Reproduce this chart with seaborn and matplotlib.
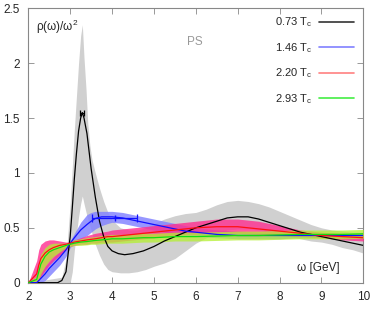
import numpy as np
import pandas as pd
import matplotlib
matplotlib.use("Agg")
import matplotlib.pyplot as plt
import seaborn as sns
from matplotlib.lines import Line2D

# --- 0.73 Tc (PS) ---
w_ps = [2.0, 2.7, 2.8, 2.9, 3.0, 3.05, 3.1, 3.15, 3.2, 3.25, 3.29, 3.33, 3.4, 3.5, 3.6,
        3.7, 3.8, 3.9, 4.0, 4.15, 4.3, 4.5, 4.75, 5.0, 5.25, 5.5, 5.75, 6.0, 6.25, 6.5,
        6.75, 7.0, 7.25, 7.5, 7.75, 8.0, 8.25, 8.5, 8.75, 9.0, 9.25, 9.5, 9.75, 10.0]
rho_ps = [0.0, 0.0, 0.02, 0.1, 0.42, 0.68, 0.95, 1.18, 1.38, 1.5, 1.55, 1.5, 1.36, 1.04, 0.78,
          0.56, 0.42, 0.33, 0.29, 0.265, 0.255, 0.265, 0.29, 0.33, 0.38, 0.42, 0.46, 0.5, 0.53, 0.56,
          0.59, 0.6, 0.6, 0.58, 0.55, 0.52, 0.49, 0.46, 0.44, 0.42, 0.4, 0.38, 0.36, 0.34]

w_psband = [2.0, 2.8, 2.9, 3.0, 3.05, 3.1, 3.2, 3.25, 3.29, 3.33, 3.38, 3.42, 3.47, 3.52, 3.6, 3.7,
            3.8, 3.9, 4.0, 4.2, 4.4, 4.6, 4.8, 5.0, 5.25, 5.5, 5.75, 6.0, 6.25, 6.5, 6.75,
            7.0, 7.25, 7.5, 7.75, 8.0, 8.25, 8.5, 8.75, 9.0, 9.25, 9.5, 9.75, 10.0]
ps_hi = [0.0, 0.05, 0.22, 0.72, 1.05, 1.4, 2.0, 2.25, 2.35, 2.05, 1.75, 1.45, 1.25, 1.12, 1.0, 0.86,
         0.74, 0.64, 0.57, 0.5, 0.48, 0.48, 0.5, 0.54, 0.58, 0.61, 0.63, 0.64, 0.67, 0.71, 0.74,
         0.75, 0.74, 0.72, 0.69, 0.65, 0.61, 0.57, 0.53, 0.5, 0.48, 0.47, 0.46, 0.46]
ps_lo = [0.0, 0.0, 0.0, 0.0, 0.1, 0.3, 0.6, 0.72, 0.79, 0.72, 0.64, 0.58, 0.52, 0.45, 0.35, 0.25,
         0.17, 0.12, 0.1, 0.09, 0.09, 0.1, 0.12, 0.15, 0.18, 0.22, 0.29, 0.36, 0.41, 0.45, 0.48,
         0.49, 0.49, 0.48, 0.46, 0.44, 0.42, 0.4, 0.38, 0.37, 0.35, 0.32, 0.3, 0.27]

# --- hot series, common omega grid ---
w_hot = [2.0, 2.2, 2.25, 2.3, 2.4, 2.5, 2.6, 2.75, 2.9, 3.0, 3.1, 3.25, 3.4, 3.5, 3.6, 3.75, 3.9,
         4.0, 4.25, 4.5, 4.75, 5.0, 5.25, 5.5, 5.75, 6.0, 6.5, 7.0, 7.5, 8.0, 8.5, 9.0, 9.5, 10.0]

rho_146 = [0.0, 0.0, 0.02, 0.04, 0.08, 0.13, 0.17, 0.23, 0.3, 0.36, 0.41, 0.48, 0.53, 0.56, 0.585, 0.6, 0.6,
           0.6, 0.59, 0.57, 0.55, 0.53, 0.51, 0.49, 0.47, 0.46, 0.44, 0.43, 0.43, 0.43, 0.43, 0.43, 0.43, 0.43]
hi_146 = [0.0, 0.04, 0.07, 0.1, 0.15, 0.19, 0.23, 0.29, 0.34, 0.38, 0.45, 0.55, 0.62, 0.64, 0.65, 0.65, 0.65,
          0.65, 0.64, 0.62, 0.6, 0.58, 0.56, 0.54, 0.52, 0.5, 0.48, 0.47, 0.46, 0.46, 0.45, 0.45, 0.45, 0.45]
lo_146 = [0.0, 0.0, 0.0, 0.0, 0.02, 0.06, 0.1, 0.16, 0.24, 0.32, 0.36, 0.4, 0.43, 0.46, 0.49, 0.52, 0.54,
          0.55, 0.54, 0.52, 0.5, 0.48, 0.46, 0.44, 0.43, 0.42, 0.41, 0.4, 0.4, 0.4, 0.41, 0.41, 0.41, 0.41]

rho_220 = [0.0, 0.08, 0.16, 0.22, 0.27, 0.3, 0.32, 0.34, 0.35, 0.36, 0.37, 0.38, 0.39, 0.395, 0.4, 0.41, 0.42,
           0.42, 0.43, 0.44, 0.45, 0.46, 0.47, 0.48, 0.49, 0.5, 0.51, 0.51, 0.49, 0.47, 0.45, 0.43, 0.42, 0.41]
hi_220 = [0.0, 0.2, 0.3, 0.35, 0.38, 0.39, 0.39, 0.38, 0.37, 0.37, 0.39, 0.41, 0.43, 0.44, 0.45, 0.46, 0.47,
          0.48, 0.49, 0.5, 0.51, 0.52, 0.53, 0.54, 0.55, 0.56, 0.58, 0.58, 0.56, 0.52, 0.48, 0.46, 0.45, 0.44]
lo_220 = [0.0, 0.0, 0.03, 0.06, 0.11, 0.16, 0.2, 0.25, 0.3, 0.33, 0.34, 0.35, 0.35, 0.36, 0.36, 0.37, 0.37,
          0.37, 0.38, 0.39, 0.4, 0.41, 0.42, 0.43, 0.44, 0.44, 0.45, 0.45, 0.44, 0.43, 0.42, 0.41, 0.39, 0.38]

rho_293 = [0.0, 0.03, 0.1, 0.17, 0.24, 0.28, 0.3, 0.32, 0.34, 0.35, 0.36, 0.37, 0.375, 0.38, 0.385, 0.39, 0.395,
           0.4, 0.4, 0.405, 0.41, 0.41, 0.415, 0.42, 0.42, 0.42, 0.425, 0.43, 0.43, 0.435, 0.44, 0.44, 0.44, 0.445]
hi_293 = [0.0, 0.06, 0.18, 0.26, 0.32, 0.35, 0.36, 0.36, 0.36, 0.37, 0.39, 0.4, 0.41, 0.415, 0.42, 0.43, 0.435,
          0.44, 0.44, 0.445, 0.45, 0.45, 0.455, 0.46, 0.46, 0.46, 0.465, 0.47, 0.47, 0.475, 0.48, 0.48, 0.48, 0.485]
lo_293 = [0.0, 0.0, 0.03, 0.08, 0.15, 0.2, 0.24, 0.28, 0.32, 0.33, 0.34, 0.34, 0.345, 0.35, 0.35, 0.355, 0.36,
          0.36, 0.36, 0.365, 0.37, 0.37, 0.375, 0.38, 0.38, 0.38, 0.385, 0.39, 0.39, 0.395, 0.4, 0.4, 0.4, 0.405]

labels = ["0.73 T$_c$", "1.46 T$_c$", "2.20 T$_c$", "2.93 T$_c$"]
legend_colors = ["#333333", "#8080ff", "#ff8080", "#44ee44"]

# error bars (peak position)
peak_x, peak_y, peak_xerr = [3.28], [1.55], [0.04]
blue_x, blue_y, blue_xerr = [4.06], [0.59], [0.54]

sns.set_style("ticks")
plt.rcParams["font.family"] = ["Liberation Sans", "DejaVu Sans"]
plt.rcParams["mathtext.fontset"] = "custom"
plt.rcParams["mathtext.rm"] = "Liberation Sans"
plt.rcParams["mathtext.it"] = "Liberation Sans"

fig = plt.figure(figsize=(3.74, 3.13), dpi=100)
ax = fig.add_axes([0.0757, 0.0968, 0.8957, 0.8767])

ps = pd.DataFrame({"w": w_ps, "rho": rho_ps})
hot = pd.DataFrame({"w": w_hot, "r146": rho_146, "r220": rho_220, "r293": rho_293})

ax.fill_between(w_psband, ps_lo, ps_hi, color="#d0d0d0", lw=0, zorder=1)
ax.fill_between(w_hot, lo_146, hi_146, color="#8585ff", alpha=0.85, lw=0, zorder=2)
ax.fill_between(w_hot, lo_220, hi_220, color="#ff2d8f", alpha=0.8, lw=0, zorder=3)
ax.fill_between(w_hot, lo_293, hi_293, color="#b4f030", alpha=0.75, lw=0, zorder=4)

sns.lineplot(data=ps, x="w", y="rho", ax=ax, color="black", lw=0.9, zorder=5)
sns.lineplot(data=hot, x="w", y="r146", ax=ax, color="#1010ff", lw=0.9, zorder=6)
sns.lineplot(data=hot, x="w", y="r220", ax=ax, color="#ff1010", lw=0.9, zorder=6)
sns.lineplot(data=hot, x="w", y="r293", ax=ax, color="#10dd10", lw=0.9, zorder=7)

ax.errorbar(peak_x, peak_y, xerr=peak_xerr, fmt="none", ecolor="black", elinewidth=0.9,
            capsize=2, capthick=0.9, zorder=8)
ax.errorbar(blue_x, blue_y, xerr=blue_xerr, fmt="|", color="#1010ff", ms=4, elinewidth=0.9,
            capsize=3, capthick=0.9, zorder=8)

ax.set_xlim(2, 10)
ax.set_ylim(0, 2.5)
ax.set_xticks(range(2, 11))
ax.set_yticks([0, 0.5, 1, 1.5, 2, 2.5])
ax.set_yticklabels(["0", "0.5", "1", "1.5", "2", "2.5"])
ax.set_xlabel("")
ax.set_ylabel("")
ax.tick_params(direction="in", length=4, width=0.6, color="#888888", labelsize=8.5,
               top=True, right=True, pad=6)
for s in ax.spines.values():
    s.set_color("#888888")
    s.set_linewidth(0.8)

ax.text(2.18, 2.33, r"ρ(ω)/ω$^2$", fontsize=8.5, va="center", ha="left")
ax.text(5.98, 2.19, "PS", fontsize=8.5, color="#999999", va="center", ha="center")
ax.text(9.43, 0.13, "ω [GeV]", fontsize=8.5, va="center", ha="right")

handles = [Line2D([], [], color=c, lw=1.2) for c in legend_colors]
ax.legend(handles, labels, loc="upper right", bbox_to_anchor=(0.985, 0.99), frameon=False,
          markerfirst=False, fontsize=8, handlelength=3.1, labelspacing=1.05, handletextpad=0.6,
          borderaxespad=0)

fig.savefig("out.png", dpi=100)
